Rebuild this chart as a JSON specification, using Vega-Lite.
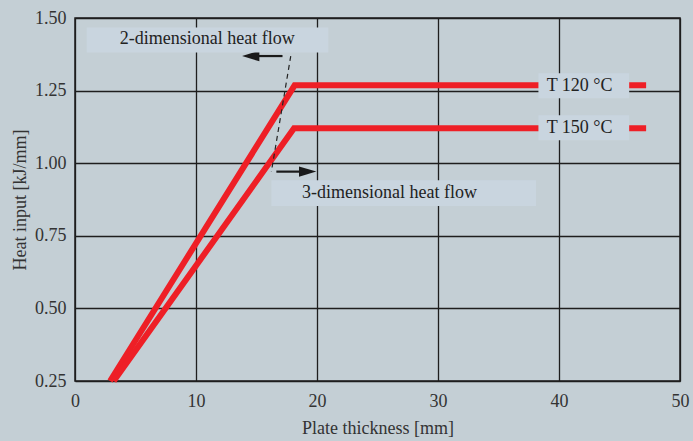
{
  "$schema": "https://vega.github.io/schema/vega-lite/v6.json",
  "width": 605,
  "height": 363,
  "autosize": {"type": "none"},
  "padding": {"left": 75, "top": 18, "right": 13, "bottom": 60},
  "background": "#c4cfd5",
  "config": {
    "view": {"stroke": "#1e1e1e", "strokeWidth": 1.5},
    "font": "Liberation Serif",
    "axis": {
      "domain": false,
      "ticks": false,
      "grid": true,
      "gridColor": "#1e1e1e",
      "gridWidth": 1.3,
      "labelFont": "Liberation Serif",
      "labelFontSize": 18,
      "labelColor": "#333333",
      "titleFont": "Liberation Serif",
      "titleFontSize": 18,
      "titleFontWeight": "normal",
      "titleColor": "#333333"
    }
  },
  "datasets": {
    "lines": [
      {"series": "T120", "o": 1, "x": 2.9, "y": 0.25},
      {"series": "T120", "o": 2, "x": 18.15, "y": 1.268},
      {"series": "T120", "o": 3, "x": 47.2, "y": 1.268},
      {"series": "T150", "o": 1, "x": 3.2, "y": 0.25},
      {"series": "T150", "o": 2, "x": 18.1, "y": 1.12},
      {"series": "T150", "o": 3, "x": 47.2, "y": 1.12}
    ],
    "dash": [{"x": 17.83, "y": 1.369, "x2": 16.23, "y2": 0.971}],
    "shafts": [
      {"x": 17.15, "x2": 14.7, "y": 1.369},
      {"x": 16.64, "x2": 19.1, "y": 0.971}
    ],
    "heads": [
      {"dir": "left", "x": 14.52, "y": 1.369},
      {"dir": "right", "x": 19.23, "y": 0.971}
    ],
    "boxes": [
      {"name": "2d", "x": 0.97, "x2": 20.94, "y": 1.381, "y2": 1.467},
      {"name": "3d", "x": 16.23, "x2": 38.1, "y": 0.853, "y2": 0.941},
      {"name": "T120", "x": 38.3, "x2": 45.8, "y": 1.224, "y2": 1.31},
      {"name": "T150", "x": 38.3, "x2": 45.8, "y": 1.079, "y2": 1.165}
    ],
    "labels": [
      {"label": "2-dimensional heat flow", "x": 10.93, "y": 1.427},
      {"label": "3-dimensional heat flow", "x": 26.0, "y": 0.898},
      {"label": "T 120 °C", "x": 41.7, "y": 1.266},
      {"label": "T 150 °C", "x": 41.7, "y": 1.12}
    ]
  },
  "layer": [
    {
      "data": {"name": "lines"},
      "mark": {"type": "line", "color": "#ee1f26", "strokeWidth": 6, "strokeJoin": "miter"},
      "encoding": {
        "x": {"field": "x", "type": "quantitative", "title": "Plate thickness [mm]",
              "scale": {"domain": [0, 50], "nice": false},
              "axis": {"values": [0, 10, 20, 30, 40, 50], "labelFlush": false, "labelPadding": 11, "titlePadding": 9}},
        "y": {"field": "y", "type": "quantitative", "title": "Heat input [kJ/mm]",
              "scale": {"domain": [0.25, 1.5], "nice": false, "zero": false},
              "axis": {"values": [0.25, 0.5, 0.75, 1, 1.25, 1.5], "format": ".2f", "labelFlush": false, "labelPadding": 9, "titlePadding": 5}},
        "detail": {"field": "series"},
        "order": {"field": "o", "type": "quantitative"}
      }
    },
    {
      "data": {"name": "dash"},
      "mark": {"type": "rule", "color": "#222222", "strokeWidth": 1.2, "strokeDash": [5, 4]},
      "encoding": {
        "x": {"field": "x", "type": "quantitative", "title": "Plate thickness [mm]"},
        "y": {"field": "y", "type": "quantitative", "title": "Heat input [kJ/mm]"},
        "x2": {"field": "x2"},
        "y2": {"field": "y2"}
      }
    },
    {
      "data": {"name": "shafts"},
      "mark": {"type": "rule", "color": "#1a1a1a", "strokeWidth": 2.2},
      "encoding": {
        "x": {"field": "x", "type": "quantitative", "title": "Plate thickness [mm]"},
        "y": {"field": "y", "type": "quantitative", "title": "Heat input [kJ/mm]"},
        "x2": {"field": "x2"}
      }
    },
    {
      "data": {"name": "heads"},
      "transform": [{"filter": "datum.dir == 'left'"}],
      "mark": {"type": "point", "filled": true, "color": "#1a1a1a", "opacity": 1, "size": 300, "shape": "M-1,0L1,-0.6L1,0.6Z"},
      "encoding": {
        "x": {"field": "x", "type": "quantitative", "title": "Plate thickness [mm]"},
        "y": {"field": "y", "type": "quantitative", "title": "Heat input [kJ/mm]"}
      }
    },
    {
      "data": {"name": "heads"},
      "transform": [{"filter": "datum.dir == 'right'"}],
      "mark": {"type": "point", "filled": true, "color": "#1a1a1a", "opacity": 1, "size": 300, "shape": "M1,0L-1,-0.6L-1,0.6Z"},
      "encoding": {
        "x": {"field": "x", "type": "quantitative", "title": "Plate thickness [mm]"},
        "y": {"field": "y", "type": "quantitative", "title": "Heat input [kJ/mm]"}
      }
    },
    {
      "data": {"name": "boxes"},
      "mark": {"type": "rect", "color": "#c9d5df"},
      "encoding": {
        "x": {"field": "x", "type": "quantitative", "title": "Plate thickness [mm]"},
        "y": {"field": "y", "type": "quantitative", "title": "Heat input [kJ/mm]"},
        "x2": {"field": "x2"},
        "y2": {"field": "y2"}
      }
    },
    {
      "data": {"name": "labels"},
      "mark": {"type": "text", "font": "Liberation Serif", "fontSize": 18, "color": "#222222", "align": "center", "baseline": "middle"},
      "encoding": {
        "x": {"field": "x", "type": "quantitative", "title": "Plate thickness [mm]"},
        "y": {"field": "y", "type": "quantitative", "title": "Heat input [kJ/mm]"},
        "text": {"field": "label"}
      }
    }
  ]
}
